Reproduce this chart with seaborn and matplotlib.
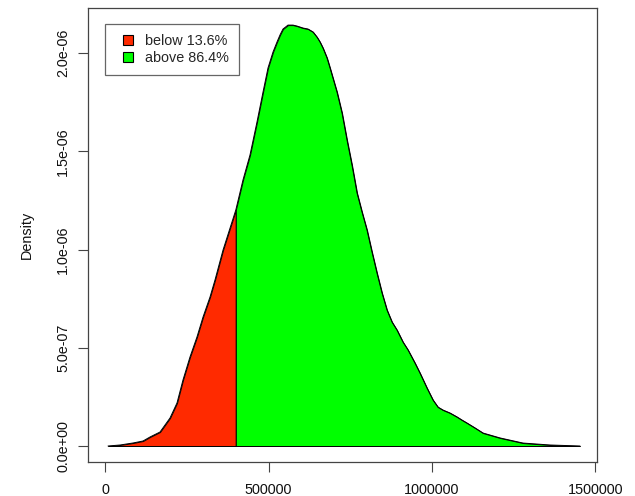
import matplotlib
matplotlib.use('Agg')
import matplotlib.pyplot as plt
import numpy as np
import pandas as pd
import seaborn as sns
from matplotlib.lines import Line2D
from matplotlib.ticker import FuncFormatter

# density curve
income = [9200, 45900, 85600, 116200, 137600, 168200, 198800, 220200, 238500, 259900,
          281300, 299700, 321100, 336400, 360900, 400000, 422000, 443400, 464800, 483200,
          498500, 513800, 526000, 535200, 544300, 559600, 574900, 587200, 605500, 620800,
          636100, 648300, 657500, 666700, 678900, 688100, 709500, 724800, 740100, 755300,
          770700, 785900, 801200, 816500, 831800, 847100, 862400, 877700, 893000, 911300,
          926600, 948000, 963300, 984700, 1003100, 1018300, 1033600, 1055000, 1076400, 1091700,
          1107000, 1131500, 1156000, 1208000, 1278300, 1360900, 1452600]
density = [0, 5.1e-9, 1.53e-8, 2.54e-8, 4.58e-8, 7.12e-8, 1.425e-7, 2.19e-7, 3.36e-7, 4.53e-7,
           5.55e-7, 6.56e-7, 7.58e-7, 8.45e-7, 9.97e-7, 1.201e-6, 1.354e-6, 1.481e-6, 1.649e-6, 1.801e-6,
           1.924e-6, 2.005e-6, 2.056e-6, 2.092e-6, 2.122e-6, 2.142e-6, 2.142e-6, 2.137e-6, 2.127e-6, 2.122e-6,
           2.107e-6, 2.081e-6, 2.056e-6, 2.025e-6, 1.975e-6, 1.924e-6, 1.801e-6, 1.695e-6, 1.557e-6, 1.430e-6,
           1.288e-6, 1.191e-6, 1.099e-6, 9.87e-7, 8.80e-7, 7.79e-7, 6.92e-7, 6.31e-7, 5.90e-7, 5.29e-7,
           4.89e-7, 4.22e-7, 3.71e-7, 2.95e-7, 2.34e-7, 1.98e-7, 1.83e-7, 1.68e-7, 1.48e-7, 1.32e-7,
           1.17e-7, 9.2e-8, 6.6e-8, 4.1e-8, 1.5e-8, 5.1e-9, 0]
cutoff = 400000
legend_labels = ['below 13.6%', 'above 86.4%']
x_ticks = [0, 500000, 1000000, 1500000]
y_ticks = [0, 5e-7, 1e-6, 1.5e-6, 2e-6]

RED = '#ff2a00'
GREEN = '#00ff00'
EDGE = '#444444'

sns.set_style('ticks')
plt.rcParams['font.family'] = ['Liberation Sans', 'DejaVu Sans']
plt.rcParams['font.size'] = 10.4

df = pd.DataFrame({'income': income, 'density': density})
below = df['income'] <= cutoff
above = df['income'] >= cutoff

fig = plt.figure(figsize=(6.35, 4.96), dpi=100)
ax = fig.add_axes([88 / 635, 1 - 462 / 496, 509 / 635, 454 / 496])

ax.fill_between(df.loc[below, 'income'], 0, df.loc[below, 'density'],
                facecolor=RED, edgecolor='black', linewidth=0.7)
ax.fill_between(df.loc[above, 'income'], 0, df.loc[above, 'density'],
                facecolor=GREEN, edgecolor='black', linewidth=0.7)
sns.lineplot(data=df, x='income', y='density', color='black', linewidth=0.7,
             estimator=None, sort=False, ax=ax)
ax.lines[-1].set_solid_joinstyle('round')

ax.set_xlim(-52000, 1504600)
ax.set_ylim(-8.14e-8, 2.229e-6)
ax.set_xticks(x_ticks)
ax.set_yticks(y_ticks)
ax.xaxis.set_major_formatter(FuncFormatter(lambda v, p: '{:d}'.format(int(round(v)))))
ax.yaxis.set_major_formatter(FuncFormatter(lambda v, p: '{:.1e}'.format(v)))
ax.tick_params(axis='both', length=7.2, width=0.8, color=EDGE, labelcolor='#111111',
               labelsize=10.4)
ax.tick_params(axis='x', pad=8)
ax.tick_params(axis='y', pad=5.5, labelrotation=90)
for lab in ax.get_yticklabels():
    lab.set_verticalalignment('center')

for sp in ax.spines.values():
    sp.set_color(EDGE)
    sp.set_linewidth(0.9)

ax.set_xlabel('')
ax.set_ylabel('Density', fontsize=10.4, color='#111111')
ax.yaxis.set_label_coords(-0.106, 0.5)

handles = [Line2D([], [], linestyle='none', marker='s', markersize=7.2,
                  markerfacecolor=c, markeredgecolor='black', markeredgewidth=0.8)
           for c in (RED, GREEN)]
leg = ax.legend(handles, legend_labels, loc='upper left',
                bbox_to_anchor=((105 - 88) / 509, (462 - 24) / 454),
                borderaxespad=0, borderpad=0.7, handlelength=1.8, handletextpad=0.25,
                labelspacing=0.2, fancybox=False, framealpha=1, fontsize=10.4)
leg.get_frame().set_edgecolor('#666666')
leg.get_frame().set_linewidth(0.9)

plt.savefig('out.png', dpi=100)
